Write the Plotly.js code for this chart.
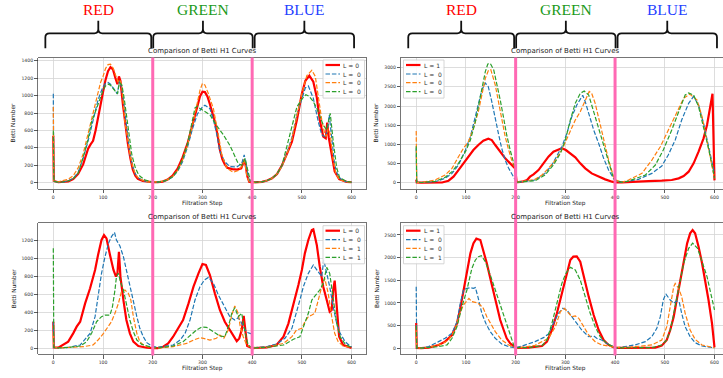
<!DOCTYPE html>
<html><head><meta charset="utf-8">
<script src="https://cdn.plot.ly/plotly-3.0.1.min.js"></script>
<style>html,body{margin:0;padding:0;overflow:hidden;background:#fff}</style>
</head><body><div id="chart"></div>
<script>
// ---------------- DATA ----------------
const xTickVals = [0,100,200,300,400,500,600];
const tlYTicks = [0,200,400,600,800,1000,1200,1400];
const trYTicks = [0,500,1000,1500,2000,2500,3000];
const blYTicks = [0,200,400,600,800,1000,1200];
const brYTicks = [0,500,1000,1500,2000,2500];
const channelNames = ['RED','GREEN','BLUE'];
const channelColors = ['#ff0000','#1a9a1a','#1f3fff'];
const tlLabels = ['L = 0','L =  0','L =  0','L =  0'];
const blLabels = ['L = 0','L =  0','L =  1','L =  1'];
const trLabels = ['L = 1','L =  0','L =  0','L =  0'];
const brLabels = ['L = 1','L =  0','L =  0','L =  1'];

// top-left
const tlRedX = [0,1,10,20,30,40,50,60,65,70,75,80,85,90,95,100,105,110,115,120,125,129,132,135,140,145,150,155,160,165,170,180,190,200,210,220,230,240,250,260,270,280,290,295,300,305,310,315,320,325,330,335,340,345,350,360,370,378,384,387,390,394,400,410,420,430,440,450,460,470,480,490,500,507,515,523,530,536,543,548,551,554,560,566,575,590,600];
const tlRedY = [540,20,5,6,15,40,100,210,300,390,440,480,600,760,900,1040,1180,1280,1325,1300,1200,1130,1220,1170,900,650,450,280,150,80,45,20,10,5,5,12,35,80,160,290,450,650,880,990,1045,1040,990,900,800,700,560,380,270,210,170,155,150,165,260,200,80,10,3,3,10,25,50,100,200,330,470,720,1020,1170,1230,1160,980,720,530,510,690,520,320,130,40,10,5];
const tlBlueX = [0,1,10,20,30,40,50,60,70,80,90,95,100,105,110,115,120,125,129,133,137,141,146,150,154,160,165,170,180,190,200,210,220,230,240,250,260,270,280,290,300,305,315,322,329,335,345,355,369,379,384,389,394,400,410,420,430,440,450,460,470,480,490,500,507,513,523,533,540,546,551,555,560,566,573,585,600];
const tlBlueY = [1020,15,5,8,20,50,120,280,480,720,950,1030,1100,1140,1150,1130,1090,1050,1020,1170,1100,950,700,520,330,180,100,60,25,10,5,6,14,30,65,130,240,410,620,790,870,890,850,720,550,360,240,185,180,220,320,150,20,3,4,10,25,50,100,190,340,520,780,980,1090,1110,970,700,550,528,585,777,509,203,69,15,5];
const tlOrangeX = [0,1,10,20,30,40,50,60,70,80,88,95,100,105,110,115,120,125,130,134,138,144,150,155,160,165,170,180,190,200,210,220,230,240,250,260,270,280,290,295,300,305,312,322,332,339,349,362,372,381,384,389,394,400,410,420,430,440,450,460,470,480,490,500,510,520,527,533,540,546,549,553,557,562,568,575,590,600];
const tlOrangeY = [870,20,10,25,40,80,170,330,560,800,1004,1150,1220,1310,1355,1360,1320,1230,1160,1180,1100,700,470,300,180,100,60,25,10,5,8,18,35,70,140,260,430,660,920,1060,1140,1120,1020,850,550,320,165,120,140,200,280,90,10,3,4,10,25,50,100,190,330,500,770,1020,1230,1290,1220,1000,720,560,530,620,560,300,110,35,10,5];
const tlGreenX = [0,1,10,20,30,40,50,60,70,77,85,90,95,100,105,110,115,120,125,129,133,138,143,149,155,158,165,170,175,185,200,210,220,230,240,250,260,270,280,285,290,295,301,315,328,342,355,365,372,379,386,390,396,400,410,420,430,440,450,460,470,480,490,500,508,515,522,530,537,543,550,557,563,570,576,590,600];
const tlGreenY = [600,15,5,8,20,45,110,290,500,700,820,900,1000,1060,1110,1130,1120,1080,1040,1020,1150,1120,950,700,480,318,170,110,70,30,8,6,15,32,70,140,270,450,720,860,880,850,830,780,660,550,430,300,220,200,280,170,30,3,4,10,25,50,100,200,420,640,870,960,1010,990,940,854,760,662,605,796,478,172,57,15,5];

// bottom-left
const blRedX = [0,1,10,20,30,40,47,54,64,74,84,90,97,102,107,114,121,126,129,132,135,141,147,154,161,171,188,200,210,221,231,241,251,261,272,282,292,300,307,315,325,335,345,355,362,369,374,379,383,387,390,400,409,429,449,463,473,483,493,500,506,513,520,523,530,536,543,550,556,560,563,566,570,575,583,597,600];
const blRedY = [295,10,8,37,74,166,240,295,498,665,868,1034,1200,1255,1218,1034,868,794,830,1070,794,535,314,166,74,26,7,3,3,18,55,129,222,314,498,683,831,934,923,812,609,425,295,203,129,80,110,203,360,129,26,3,3,11,37,129,277,480,701,868,1052,1200,1311,1318,1145,905,683,535,406,425,646,750,461,129,37,11,5];
const blBlueX = [0,1,10,30,54,74,84,90,97,104,111,117,123,127,134,141,147,154,161,168,174,181,188,198,210,241,255,265,275,285,295,304,312,322,332,342,355,365,372,379,386,392,399,401,429,449,466,480,489,496,503,513,523,533,540,544,550,556,563,570,577,587,597,600];
const blBlueY = [300,10,5,10,37,166,351,572,831,1015,1163,1237,1285,1200,1133,1015,868,683,498,351,222,129,63,26,10,37,92,166,314,535,683,757,786,720,591,480,351,314,340,277,203,173,160,5,18,48,111,222,388,535,683,831,923,849,794,980,831,683,461,277,166,74,26,15];
const blOrangeX = [0,1,10,40,60,80,90,101,111,117,124,131,137,144,151,156,161,168,174,184,198,210,241,268,282,295,302,315,328,335,343,352,359,365,372,376,382,389,400,429,463,480,489,500,506,513,520,526,533,540,546,553,560,566,573,583,600];
const blOrangeY = [150,10,5,10,18,37,92,166,240,295,388,498,628,646,609,535,351,166,74,26,7,5,18,55,92,118,110,92,111,148,111,203,369,470,388,240,129,37,5,11,55,129,203,222,295,351,369,388,535,683,775,609,351,166,74,26,8];
const blGreenX = [0,1,10,30,54,67,77,87,97,104,114,119,124,127,131,135,141,147,154,161,168,178,191,200,210,241,261,278,288,298,308,322,335,345,352,359,365,372,379,386,392,400,429,463,483,496,506,513,520,526,536,543,550,556,563,570,577,587,597,600];
const blGreenY = [1108,10,5,10,26,74,166,295,351,369,369,461,646,794,830,738,646,498,314,185,92,44,18,8,5,26,74,159,203,235,233,185,137,129,240,388,450,351,388,166,37,5,11,37,100,129,277,388,535,572,646,720,897,831,535,277,129,48,18,10];

// top-right
const trRedX = [0,1,10,30,52,65,75,85,95,105,115,125,135,145,152,159,169,179,189,196,199,202,213,223,229,236,246,256,266,276,286,293,301,310,320,330,340,353,367,380,394,400,414,440,467,494,514,528,538,548,558,568,578,585,591,596,600];
const trRedY = [80,5,3,3,5,52,157,330,504,678,852,983,1096,1150,1113,983,809,635,504,417,374,9,26,70,157,217,330,504,678,809,870,900,852,765,661,504,374,243,157,87,26,10,9,35,43,52,70,113,174,287,504,809,1157,1504,1939,2320,60];
const trBlueX = [0,1,10,38,58,72,85,99,109,119,125,132,139,145,152,159,166,172,179,186,196,199,202,239,259,273,286,293,303,313,323,335,340,347,357,367,377,387,397,400,414,447,474,494,507,521,534,548,558,568,578,588,595,600];
const trBlueY = [900,10,5,26,113,243,461,852,1200,1722,2070,2417,2600,2504,2113,1635,1244,896,591,374,157,87,9,70,243,461,765,939,1287,1722,2026,2280,2113,1809,1374,1026,635,330,87,50,9,87,243,435,722,1113,1635,2070,2250,2026,1548,939,504,243];
const trOrangeX = [0,1,10,38,58,72,85,95,105,115,125,132,139,145,150,159,166,172,179,186,192,199,202,239,253,266,280,293,306,320,330,340,348,353,360,368,377,387,397,400,414,427,454,474,491,507,524,538,550,565,575,585,595,600];
const trOrangeY = [1350,10,5,70,200,374,678,896,1070,1417,1852,2330,2722,2922,2950,2548,2070,1635,1200,852,591,374,9,87,200,374,591,852,1244,1635,1852,2157,2380,2330,2070,1635,1113,591,157,80,9,70,243,591,939,1374,1852,2200,2310,2157,1722,1113,504,113];
const trGreenX = [0,1,10,38,58,72,85,99,109,119,125,132,139,144,149,156,162,169,176,182,189,196,199,202,239,259,276,290,300,310,320,330,338,347,357,367,377,387,397,400,414,427,461,481,497,514,531,541,548,558,568,578,588,595,600];
const trGreenY = [950,10,5,35,139,287,504,809,1113,1591,1983,2461,2896,3096,3110,2939,2591,2157,1678,1244,852,548,374,9,52,200,461,765,1113,1635,2070,2330,2390,2287,1852,1374,939,504,113,60,9,43,200,461,852,1374,1983,2287,2340,2287,1983,1461,896,461,113];

// bottom-right
const brRedX = [0,1,10,25,45,58,72,82,88,95,102,109,115,121,129,135,142,149,156,162,169,176,182,189,196,200,226,253,263,273,283,293,301,310,316,323,330,337,347,357,367,377,387,397,400,427,481,494,504,511,518,524,531,538,545,551,556,561,568,575,581,588,595,598,600];
const brRedY = [560,10,5,15,74,147,294,551,846,1287,1728,2096,2316,2420,2390,2169,1875,1544,1213,919,625,404,221,110,37,10,15,51,147,404,772,1213,1581,1949,2022,2030,1912,1581,1140,735,404,184,74,22,10,8,15,59,184,404,698,1066,1507,1949,2316,2537,2610,2537,2243,1875,1507,1066,551,257,22];
const brBlueX = [0,1,10,25,45,58,72,82,88,95,102,109,115,119,124,132,140,149,159,172,186,200,213,239,256,266,276,286,295,303,313,323,333,347,357,363,373,383,394,400,407,440,461,474,484,491,497,502,511,518,524,529,534,541,551,561,575,588,600];
const brBlueY = [1360,10,5,37,147,221,331,588,956,1287,1324,1338,1324,1340,1140,772,551,368,221,96,37,10,51,147,235,316,551,772,882,846,698,551,404,257,272,221,184,110,51,15,15,74,147,257,441,698,1066,1199,1066,993,1044,1029,772,478,257,125,51,22,10];
const brOrangeX = [0,1,10,25,52,65,78,88,95,102,106,112,122,129,135,142,149,159,172,186,200,213,239,266,280,290,298,306,313,320,327,337,347,360,373,394,400,427,474,494,504,511,518,521,528,534,541,551,561,575,595,600];
const brOrangeY = [400,10,5,22,96,184,404,772,956,1066,1100,1029,1007,956,882,698,551,368,184,74,15,22,66,221,478,809,882,772,698,713,662,478,294,147,74,37,20,22,74,184,478,919,1360,1430,1324,1140,772,404,199,74,22,10];
const brGreenX = [0,1,10,45,62,72,82,92,102,112,119,125,131,139,149,159,169,179,189,196,200,226,253,263,273,283,293,301,310,320,330,340,350,360,370,383,397,400,474,494,504,511,518,528,538,548,556,566,575,585,591,596,600];
const brGreenY = [500,10,5,37,74,221,478,919,1287,1765,1949,2022,2045,1912,1618,1287,956,588,257,74,15,15,59,184,551,993,1434,1654,1787,1728,1507,1140,772,478,257,110,37,10,15,74,184,404,772,1360,1875,2206,2320,2206,1912,1581,1287,1029,850];

// ---------------- LAYOUT HELPERS ----------------
const W = 730, H = 378;
const px = v => v / W;
const py = v => 1 - v / H;
const seriesColors = ['#ff0000','#1f77b4','#ff7f0e','#2ca02c'];
const DASH = '4.5px,1.9px';
const FONT = 'DejaVu Sans';

const xDomL = [px(38.4), px(366.5)], xDomR = [px(401.3), px(729.4)];
const topPx = [57.6, 188.6], botPx = [223.3, 354.3];
const yDomT = [py(topPx[1]), py(topPx[0])], yDomB = [py(botPx[1]), py(botPx[0])];

const panels = [
  {ax:'', xd:xDomL, yd:yDomT, yr:[-68,1436], yt:tlYTicks, rows:topPx, left:true,
   s:[[tlRedX,tlRedY],[tlBlueX,tlBlueY],[tlOrangeX,tlOrangeY],[tlGreenX,tlGreenY]], lab:tlLabels},
  {ax:'2', xd:xDomR, yd:yDomT, yr:[-154,3263], yt:trYTicks, rows:topPx, left:false,
   s:[[trRedX,trRedY],[trBlueX,trBlueY],[trOrangeX,trOrangeY],[trGreenX,trGreenY]], lab:trLabels},
  {ax:'3', xd:xDomL, yd:yDomB, yr:[-66,1385], yt:blYTicks, rows:botPx, left:true,
   s:[[blRedX,blRedY],[blBlueX,blBlueY],[blOrangeX,blOrangeY],[blGreenX,blGreenY]], lab:blLabels},
  {ax:'4', xd:xDomR, yd:yDomB, yr:[-132,2758], yt:brYTicks, rows:botPx, left:false,
   s:[[brRedX,brRedY],[brBlueX,brBlueY],[brOrangeX,brOrangeY],[brGreenX,brGreenY]], lab:brLabels}
];

const traces = [];
const layout = {
  width: W, height: H, margin:{l:0,r:0,t:0,b:0,pad:0},
  paper_bgcolor:'#ffffff', plot_bgcolor:'#ffffff', showlegend:false,
  shapes:[], annotations:[]
};
const axCommon = {
  ticks:'outside', ticklen:3.5, tickwidth:0.8, tickcolor:'#333',
  showline:true, mirror:true, linecolor:'#666', linewidth:0.9,
  showgrid:true, gridcolor:'#d4d4d4', gridwidth:0.8, zeroline:false,
  tickfont:{family:FONT, size:4.6, color:'#333'}, fixedrange:true
};

panels.forEach(p => {
  const xn = 'x'+p.ax, yn = 'y'+p.ax;
  layout['xaxis'+p.ax] = Object.assign({}, axCommon, {
    domain:p.xd, range:[-30,630], anchor:yn,
    tickmode:'array', tickvals:xTickVals, ticktext:xTickVals.map(String)});
  layout['yaxis'+p.ax] = Object.assign({}, axCommon, {
    domain:p.yd, range:p.yr, anchor:xn,
    tickmode:'array', tickvals:p.yt, ticktext:p.yt.map(String)});
  p.s.forEach((sr,i) => {
    traces.push({x:sr[0], y:sr[1], xaxis:xn, yaxis:yn, type:'scatter', mode:'lines',
      line:{color:seriesColors[i], width:i===0?2.2:1.2, dash:i===0?'solid':DASH},
      hoverinfo:'skip', showlegend:false});
  });
  const xL = p.xd[0]*W, xR = p.xd[1]*W, xC = (xL+xR)/2;
  const [t,b] = p.rows;
  // subplot title
  layout.annotations.push({text:'Comparison of Betti H1 Curves', xref:'paper', yref:'paper',
    x:px(xC), y:py(t-6.2), xanchor:'center', yanchor:'middle', showarrow:false,
    font:{family:FONT, size:7, color:'#222'}});
  // x label
  layout.annotations.push({text:'Filtration Step', xref:'paper', yref:'paper',
    x:px(xC), y:py(b+14.5), xanchor:'center', yanchor:'middle', showarrow:false,
    font:{family:FONT, size:5.8, color:'#222'}});
  // y label
  layout.annotations.push({text:'Betti Number', xref:'paper', yref:'paper', textangle:-90,
    x:px(xL-25), y:py((t+b)/2), xanchor:'center', yanchor:'middle', showarrow:false,
    font:{family:FONT, size:5.8, color:'#222'}});
  // manual legend
  const bx0 = p.left ? 323 : 403.5, bx1 = p.left ? 364.5 : 444;
  layout.shapes.push({type:'rect', xref:'paper', yref:'paper', layer:'above',
    x0:px(bx0), x1:px(bx1), y0:py(t+40.5), y1:py(t+2.4),
    fillcolor:'rgba(255,255,255,0.85)', line:{color:'#cccccc', width:0.8}});
  const rowOff = [7.4, 16.4, 25.1, 34.1];
  p.lab.forEach((lab,i) => {
    const yy = py(t+rowOff[i]);
    layout.shapes.push({type:'line', xref:'paper', yref:'paper', layer:'above',
      x0:px(bx0+2.5), x1:px(bx0+17), y0:yy, y1:yy,
      line:{color:seriesColors[i], width:i===0?2.2:1.2, dash:i===0?'solid':DASH}});
    layout.annotations.push({text:lab, xref:'paper', yref:'paper', x:px(bx0+19), y:yy,
      xanchor:'left', yanchor:'middle', showarrow:false, borderpad:0,
      font:{family:FONT, size:6, color:'#333'}});
  });
});

// pink channel separators and braces (top row panels define columns)
const braceSpans = [[-16,197],[201,401],[405,605]];
const unitPerPx = 660/328.1;
['x','x2'].forEach(xr => {
  [200,400].forEach(v => {
    layout.shapes.push({type:'line', xref:xr, yref:'paper', layer:'above',
      x0:v, x1:v, y0:py(355.6), y1:py(57.6), line:{color:'#ff69b4', width:3}});
  });
  const yb = py(48.3), ym = py(33.3), yt = py(20.7), c = 4/H, rx = 4*unitPerPx;
  braceSpans.forEach((sp,k) => {
    const a = sp[0], b = sp[1], m = (a+b)/2;
    const path = `M ${a},${yb} L ${a},${ym-c} Q ${a},${ym} ${a+rx},${ym} L ${m-rx},${ym} Q ${m},${ym} ${m},${ym+c} L ${m},${yt} ` +
                 `M ${m},${ym+c} Q ${m},${ym} ${m+rx},${ym} L ${b-rx},${ym} Q ${b},${ym} ${b},${ym-c} L ${b},${yb}`;
    layout.shapes.push({type:'path', xref:xr, yref:'paper', layer:'above', path:path,
      line:{color:'#111111', width:1.8}});
    layout.annotations.push({text:channelNames[k], xref:xr, yref:'paper', x:m, y:py(9.8),
      xanchor:'center', yanchor:'middle', showarrow:false,
      font:{family:'Liberation Serif', size:15.5, color:channelColors[k]}});
  });
});

Plotly.newPlot('chart', traces, layout, {displayModeBar:false, staticPlot:true});
</script>
</body></html>
